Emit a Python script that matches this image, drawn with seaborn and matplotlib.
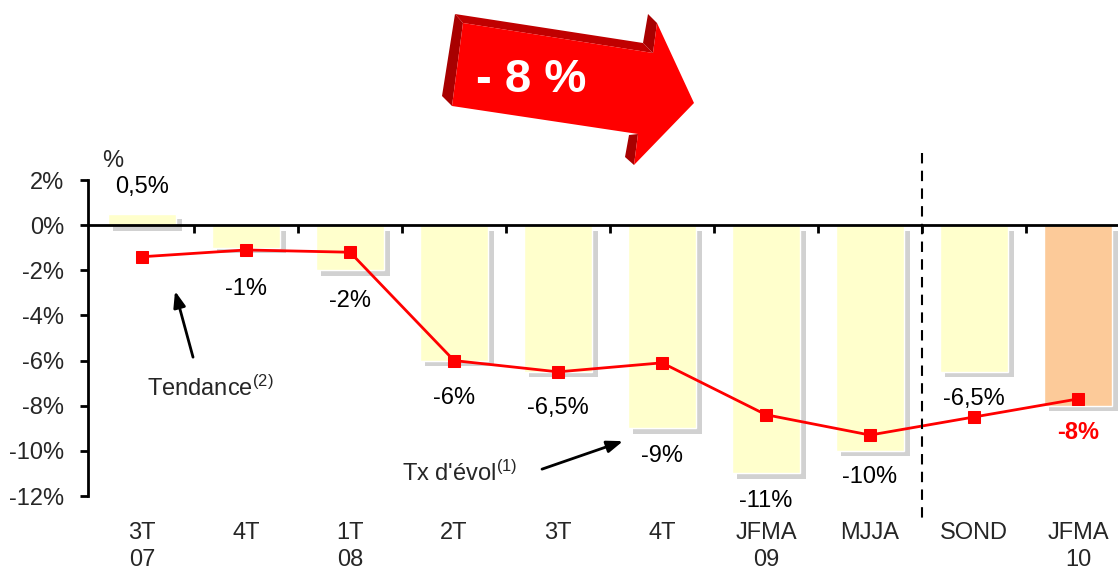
import numpy as np
import pandas as pd
import matplotlib
matplotlib.use("Agg")
import matplotlib.pyplot as plt
import matplotlib.patheffects as pe
from matplotlib.patches import Polygon
import seaborn as sns

# DATA
periodes = ["3T 07", "4T 07", "1T 08", "2T 08", "3T 08", "4T 08",
            "JFMA 09", "MJJA 09", "SOND 09", "JFMA 10"]
tick_labels = ["3T\n07", "4T", "1T\n08", "2T", "3T", "4T",
               "JFMA\n09", "MJJA", "SOND", "JFMA\n10"]
tx_evol = [0.5, -1, -2, -6, -6.5, -9, -11, -10, -6.5, -8]
tx_labels = ["0,5%", "-1%", "-2%", "-6%", "-6,5%", "-9%",
             "-11%", "-10%", "-6,5%", "-8%"]
tendance = [-1.4, -1.1, -1.2, -6.0, -6.5, -6.1, -8.4, -9.3, -8.5, -7.7]
y_ticks = [2, 0, -2, -4, -6, -8, -10, -12]
titre_fleche = "- 8 %"

# LAYOUT (label positions in data units)
label_y = [1.68, -2.84, -3.37, -7.66, -8.1, -10.23, -12.2, -11.16, -7.7, -9.2]

sns.set_theme(style="white")
plt.rcParams["font.family"] = ["Liberation Sans", "DejaVu Sans"]
plt.rcParams["mathtext.default"] = "regular"

FS = 17
W, H = 1118, 569
fig = plt.figure(figsize=(W / 100, H / 100), dpi=100)
ax = fig.add_axes([88 / W, 1 - 496 / H, 1 - 88 / W, 316 / H])

df = pd.DataFrame({"periode": periodes, "valeur": tx_evol})
colors = ["#FFFFCC"] * (len(periodes) - 1) + ["#FCCA99"]
sns.barplot(data=df, x="periode", y="valeur", hue="periode", palette=colors,
            legend=False, width=0.66, ax=ax, saturation=1, zorder=1)

for p in ax.patches:
    p.set_path_effects([
        pe.SimplePatchShadow(offset=(4, -4), shadow_rgbFace=(0.6, 0.6, 0.6), alpha=0.45),
        pe.Normal(),
    ])

sns.lineplot(x=np.arange(len(tendance)), y=tendance, color="#FF0000", lw=2,
             marker="s", markersize=8.5, markeredgecolor="#FF0000", ax=ax, zorder=4)

ax.set_xlim(-0.52, 9.385)
ax.set_ylim(-12, 2)

# axes styling
for s in ["top", "right"]:
    ax.spines[s].set_visible(False)
ax.spines["left"].set_color("black")
ax.spines["left"].set_linewidth(2)
ax.spines["bottom"].set_position(("data", 0))
ax.spines["bottom"].set_color("black")
ax.spines["bottom"].set_linewidth(2)
ax.spines["bottom"].set_zorder(3)

ax.set_yticks(y_ticks)
ax.set_yticklabels([f"{v}%" for v in y_ticks], fontsize=FS)
ax.set_xticks(np.arange(len(periodes) - 1) + 0.5)
ax.set_xticklabels([])
ax.tick_params(axis="both", direction="out", length=6, width=2, color="black",
               left=True, bottom=True)
ax.tick_params(axis="y", pad=11)
ax.set_xlabel("")
ax.set_ylabel("")

for i, lab in enumerate(tick_labels):
    ax.text(i, -0.082, lab, transform=ax.get_xaxis_transform(), ha="center",
            va="top", fontsize=FS, linespacing=1.3, clip_on=False)

for i, (lab, yy) in enumerate(zip(tx_labels, label_y)):
    last = i == len(tx_labels) - 1
    ax.text(i, yy, lab, ha="center", va="center", fontsize=FS,
            color="#FF0000" if last else "black",
            fontweight="bold" if last else "normal", clip_on=False, zorder=5)

ax.text(-0.28, 2.85, "%", ha="center", va="center", fontsize=FS, clip_on=False)

# dashed separator
ax.plot([7.5, 7.5], [3.2, -13.25], color="black", lw=1.5, ls=(0, (5, 3.5)),
        clip_on=False, zorder=5)

# annotations
arrow_kw = dict(arrowstyle="-|>,head_length=0.8,head_width=0.3",
                color="black", lw=2, shrinkA=0, shrinkB=0)
ax.annotate("", xy=(0.317, -2.92), xytext=(0.49, -5.85), arrowprops=arrow_kw)
ax.text(0.045, -7.22, "Tendance$^{(2)}$", ha="left", va="center", fontsize=FS)
ax.annotate("", xy=(4.625, -9.57), xytext=(3.846, -10.81), arrowprops=arrow_kw)
ax.text(2.5, -10.99, "Tx d'évol$^{(1)}$", ha="left", va="center", fontsize=FS)


# big 3D arrow at the top (pixel coords)
def px(pts):
    return [(x / W, 1 - y / H) for x, y in pts]


dark = "#A80000"
shapes = [
    ([(442, 96), (455, 14), (463, 23), (452, 106)], dark),
    ([(455, 14), (643, 43), (653, 53), (463, 23)], "#C00000"),
    ([(643, 43), (648, 14), (657, 23), (653, 53)], dark),
    ([(625, 157), (629, 135), (638, 134), (634, 165)], dark),
    ([(463, 23), (653, 53), (657, 23), (694, 103), (634, 165), (638, 134), (452, 106)], "#FF0000"),
]
for pts, c in shapes:
    fig.add_artist(Polygon(px(pts), closed=True, facecolor=c, edgecolor="none"))

fig.text(531 / W, 1 - 80 / H, titre_fleche, ha="center", va="center",
         fontsize=34, fontweight="bold", color="white")

fig.savefig("out.png", dpi=100)
